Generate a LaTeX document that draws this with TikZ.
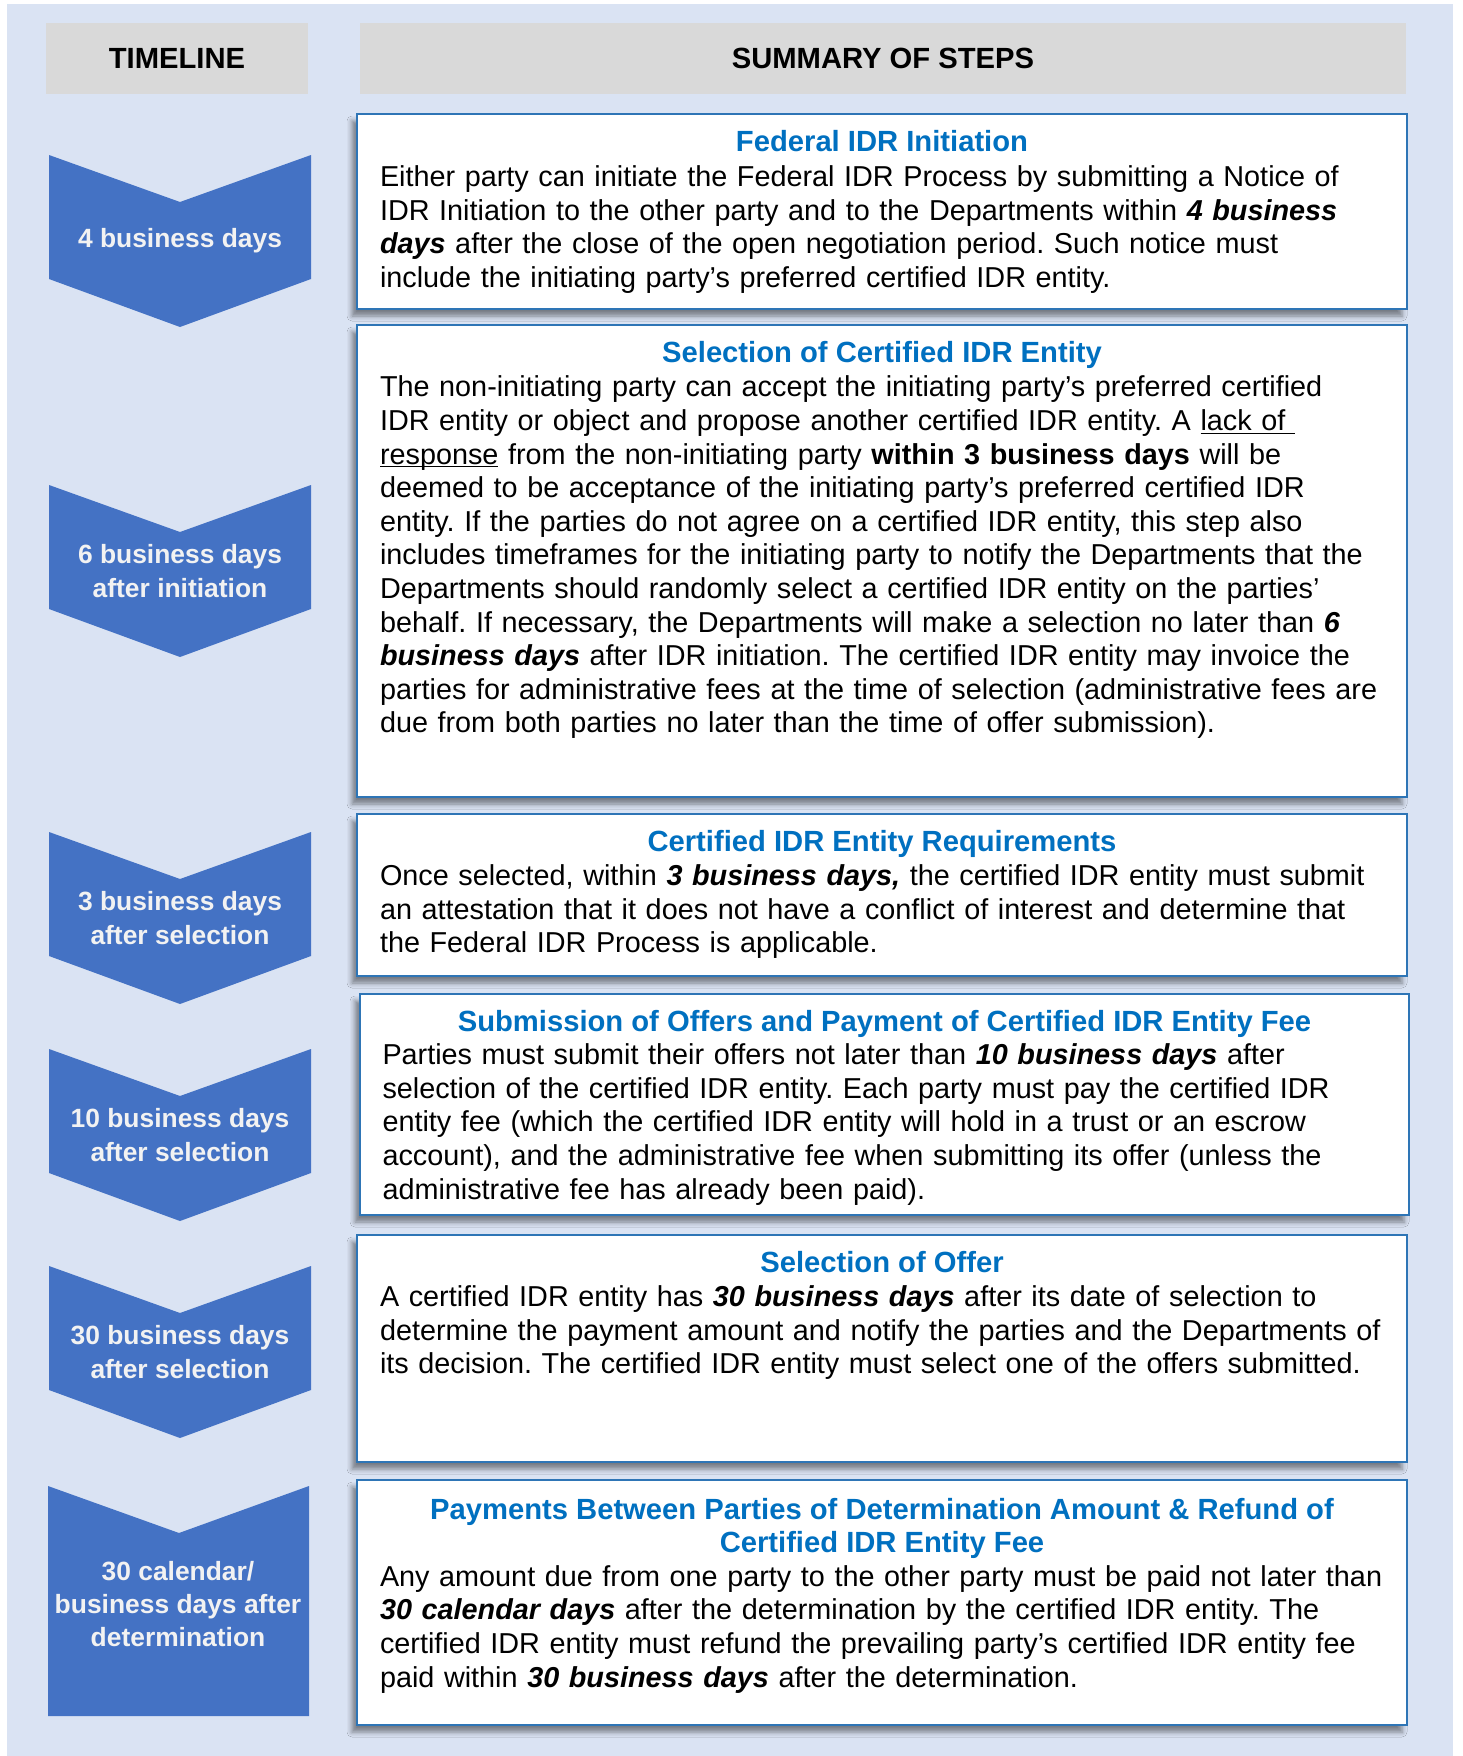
\documentclass[tikz,border=0pt]{standalone}
\usepackage{fontspec}
\setmainfont{Liberation Sans}
\usetikzlibrary{positioning,fit,shadows.blur}
\definecolor{bgblue}{HTML}{DAE3F3}
\definecolor{headgray}{HTML}{D9D9D9}
\definecolor{chevblue}{HTML}{4472C4}
\definecolor{chevwhite}{HTML}{F2F2F2}
\definecolor{titleblue}{HTML}{0070C0}
\definecolor{edgeblue}{HTML}{2E75B6}
\newcommand\headfont{\fontsize{14.6}{16.8}\selectfont}
\newcommand\bodyfont{\fontsize{14.4}{16.8}\selectfont\frenchspacing}
\newcommand\chevfont{\fontsize{13.2}{16.6}\selectfont}
\newcommand\bi[1]{\textbf{\textit{#1}}}
\newcommand\lineunder[1]{\underline{\smash{#1}}}
\tikzset{
	header/.style={fill=headgray, inner sep=0pt, minimum height=35.5pt, font=\headfont\bfseries},
	chevfill/.style={fill=chevblue},
	chevtext/.style={align=center, text=chevwhite, inner sep=0pt, font=\chevfont\bfseries},
	stepbox/.style={draw=edgeblue, line width=0.9pt, fill=white, inner sep=0pt,
			blur shadow={shadow xshift=-2.5pt, shadow yshift=-3.5pt, shadow blur radius=2.5pt, shadow opacity=45}},
	steptitle/.style={align=center, text=titleblue, inner sep=0pt, font=\headfont\bfseries},
	stepbody/.style={align=left, text width=520pt, inner sep=0pt, xshift=9pt, font=\bodyfont}
}
\begin{document}
\begin{tikzpicture}[x=0.5pt, y=-0.5pt]
		\useasboundingbox (0,0) rectangle (1462,1756);
		% Background and headers
		\fill[bgblue] (7,4) rectangle (1453,1756);
		\node[header, minimum width=131pt] (timeline) at (177,58.5) {TIMELINE};
		\node[header, minimum width=523pt] (summary) at (883,58.5) {SUMMARY OF STEPS};
		% Timeline chevrons
		\foreach \top/\lab [count=\i] in {155/{4 business days}, 485/{6 business days\\after initiation},
				832/{3 business days\\after selection}, 1049/{10 business days\\after selection},
				1266/{30 business days\\after selection}}{
			\fill[chevfill] (49,\top) -- (180,\top+47) -- (311,\top) -- (311,\top+124)
				-- (180,\top+172) -- (49,\top+124) -- cycle;
			\node[chevtext] (chev\i) at (180,\top+86) {\lab};
		}
		\fill[chevfill] (48,1486) -- (179,1533) -- (309,1486) -- (309,1716) -- (48,1716) -- cycle;
		\node[chevtext] (chev6) at (178,1604) {30 calendar/\\business days after\\determination};
		% Step boxes
		\node[stepbox, fit={(357,114)(1407,309)}] (box1) {};
		\node[stepbox, fit={(357,325)(1407,797)}] (box2) {};
		\node[stepbox, fit={(357,814)(1407,976)}] (box3) {};
		\node[stepbox, fit={(360,994)(1409,1215)}] (box4) {};
		\node[stepbox, fit={(357,1235)(1407,1462)}] (box5) {};
		\node[stepbox, fit={(357,1480)(1407,1725)}] (box6) {};
		% Box 1
		\node[steptitle, below=7pt of box1.north] (title1) {\strut Federal IDR Initiation};
		\node[stepbody, below=0.6pt of title1] (body1) {\strut Either party can initiate the Federal IDR Process by submitting a Notice of\\
			IDR Initiation to the other party and to the Departments within \bi{4 business}\\
			\bi{days} after the close of the open negotiation period. Such notice must\\
			include the initiating party’s preferred certified IDR entity.};
		% Box 2
		\node[steptitle, below=7pt of box2.north] (title2) {\strut Selection of Certified IDR Entity};
		\node[stepbody, below=0.2pt of title2] (body2) {\strut The non-initiating party can accept the initiating party’s preferred certified\\
			IDR entity or object and propose another certified IDR entity. A \lineunder{lack of\ }\\
			\lineunder{response} from the non-initiating party \textbf{within 3 business days} will be\\
			deemed to be acceptance of the initiating party’s preferred certified IDR\\
			entity. If the parties do not agree on a certified IDR entity, this step also\\
			includes timeframes for the initiating party to notify the Departments that the\\
			Departments should randomly select a certified IDR entity on the parties’\\
			behalf. If necessary, the Departments will make a selection no later than \bi{6}\\
			\bi{business days} after IDR initiation. The certified IDR entity may invoice the\\
			parties for administrative fees at the time of selection (administrative fees are\\
			due from both parties no later than the time of offer submission).};
		% Box 3
		\node[steptitle, below=7pt of box3.north] (title3) {\strut Certified IDR Entity Requirements};
		\node[stepbody, below=0pt of title3] (body3) {\strut Once selected, within \bi{3 business days,} the certified IDR entity must submit\\
			an attestation that it does not have a conflict of interest and determine that\\
			the Federal IDR Process is applicable.};
		% Box 4
		\node[steptitle, below=7pt of box4.north] (title4) {\strut Submission of Offers and Payment of Certified IDR Entity Fee};
		\node[stepbody, below=-0.4pt of title4] (body4) {\strut Parties must submit their offers not later than \bi{10 business days} after\\
			selection of the certified IDR entity. Each party must pay the certified IDR\\
			entity fee (which the certified IDR entity will hold in a trust or an escrow\\
			account), and the administrative fee when submitting its offer (unless the\\
			administrative fee has already been paid).};
		% Box 5
		\node[steptitle, below=7pt of box5.north] (title5) {\strut Selection of Offer};
		\node[stepbody, below=0pt of title5] (body5) {\strut A certified IDR entity has \bi{30 business days} after its date of selection to\\
			determine the payment amount and notify the parties and the Departments of\\
			its decision. The certified IDR entity must select one of the offers submitted.};
		% Box 6
		\node[steptitle, below=8pt of box6.north] (title6) {\strut Payments Between Parties of Determination Amount \& Refund of\\
			\strut Certified IDR Entity Fee};
		\node[stepbody, below=-0.4pt of title6] (body6) {\strut Any amount due from one party to the other party must be paid not later than\\
			\bi{30 calendar days} after the determination by the certified IDR entity. The\\
			certified IDR entity must refund the prevailing party’s certified IDR entity fee\\
			paid within \bi{30 business days} after the determination.};
	\end{tikzpicture}
\end{document}
